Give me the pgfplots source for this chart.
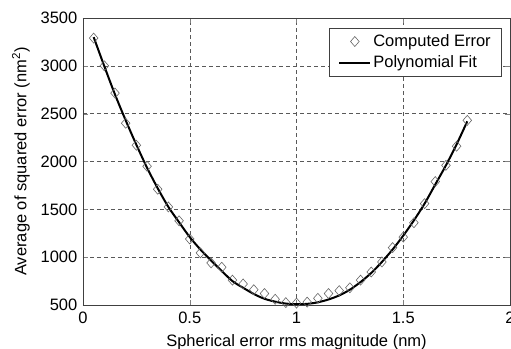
\documentclass[border=0pt]{standalone}
\usepackage{fontspec}
\setmainfont{Liberation Sans}
\usepackage{pgfplots}
\pgfplotsset{compat=1.18}
\pgfplotsset{
  legA/.style={legend image code/.code={\draw[mark repeat=2,mark phase=2,##1] plot coordinates {(0pt,0pt) (15.5pt,0pt) (31pt,0pt)};}},
  legB/.style={legend image code/.code={\draw[##1] (0pt,0pt) -- (31pt,0pt);}},
}
\begin{document}
\fontsize{16.5}{19}\selectfont
\begin{tikzpicture}
\begin{axis}[
  scale only axis, width=427pt, height=287pt,
  xmin=0, xmax=2, ymin=500, ymax=3500,
  xtick={0,0.5,1,1.5,2}, ytick={500,1000,...,3500},
  xticklabels={0,0.5,1,1.5,2},
  yticklabel style={/pgf/number format/1000 sep={}},
  /pgf/number format/assume math mode=true,
  tick label style={font=\fontsize{16.5}{19}\selectfont},
  label style={font=\fontsize{16.5}{19}\selectfont},
  tick align=inside, major tick length=5pt,
  axis line style={black!75, line width=0.6pt},
  grid=major,
  major grid style={black!65, dash pattern=on 4pt off 3pt, line width=0.5pt},
  xlabel={Spherical error rms magnitude (nm)},
  ylabel={Average of squared error (nm\textsuperscript{2})},
  xlabel style={at={(axis description cs:0.5,0)}, anchor=base, yshift=-41pt},
  ylabel style={at={(axis description cs:0,0.5)}, anchor=center, yshift=62pt},
  xticklabel style={yshift=-1pt},
  legend style={at={(1,1)}, anchor=north east, xshift=-8pt, yshift=-10pt,
    draw=black!75, line width=0.6pt, font=\fontsize{16.5}{19}\selectfont,
    row sep=3pt, inner xsep=9pt, inner ysep=4pt},
  legend cell align=left,
]
\addplot[only marks, mark=diamond, mark size=5pt, mark options={draw=black!60, line width=0.6pt, fill=none, xscale=1.15}, legA] coordinates {
(0.05,3290) (0.10,3000) (0.15,2715) (0.20,2400) (0.25,2170) (0.30,1950)
(0.35,1710) (0.40,1525) (0.45,1380) (0.50,1190) (0.55,1045) (0.60,940)
(0.65,895) (0.70,760) (0.75,720) (0.80,660) (0.85,620) (0.90,560)
(0.95,525) (1.00,520) (1.05,530) (1.10,570) (1.15,620) (1.20,650)
(1.25,680) (1.30,760) (1.35,845) (1.40,950) (1.45,1100) (1.50,1210)
(1.55,1360) (1.60,1560) (1.65,1790) (1.70,1960) (1.75,2160) (1.80,2430)
};
\addlegendentry{Computed Error}
\addplot[black, line width=2pt, smooth, no marks, legB] coordinates {
(0.05,3300) (0.10,2995) (0.15,2700) (0.20,2430) (0.25,2175) (0.30,1935)
(0.35,1720) (0.40,1525) (0.45,1365) (0.50,1210) (0.55,1080) (0.60,965)
(0.65,855) (0.70,750) (0.75,680) (0.80,615) (0.85,565) (0.90,535)
(0.95,515) (1.00,508) (1.05,512) (1.10,528) (1.15,558) (1.20,600)
(1.25,660) (1.30,740) (1.35,835) (1.40,950) (1.45,1080) (1.50,1225)
(1.55,1385) (1.60,1560) (1.65,1760) (1.70,1960) (1.75,2180) (1.80,2420)
};
\addlegendentry{Polynomial Fit}
\end{axis}
\pgfresetboundingbox
\path[use as bounding box] ([shift={(-83pt,-43pt)}]current axis.south west) rectangle ([shift={(1pt,18pt)}]current axis.north east);
\end{tikzpicture}
\end{document}
